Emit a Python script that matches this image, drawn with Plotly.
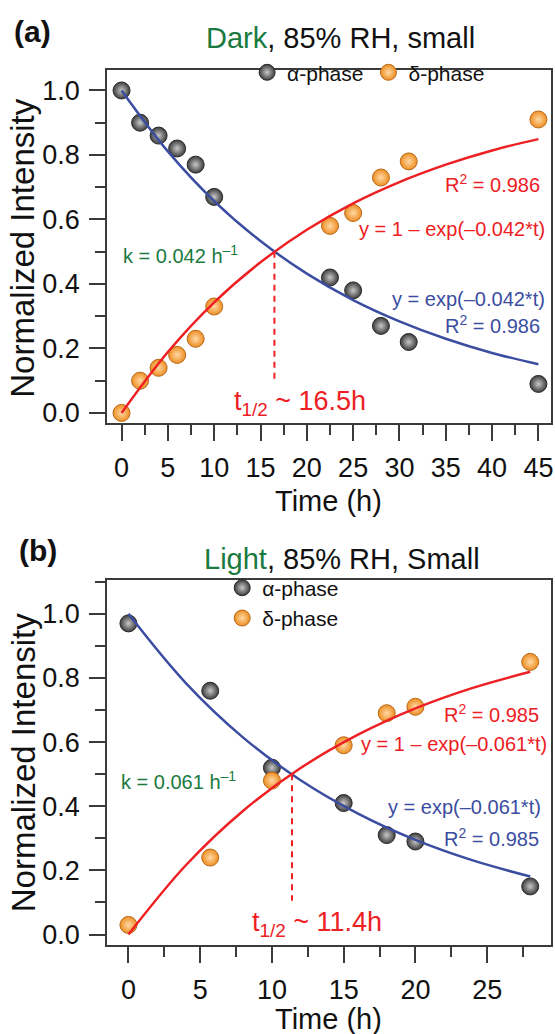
import plotly.graph_objects as go

# ---------------- data: panel (a) Dark, 85% RH, small ----------------
t_a = [0, 2, 4, 6, 8, 10, 22.5, 25, 28, 31, 45]
alpha_a = [1.00, 0.90, 0.86, 0.82, 0.77, 0.67, 0.42, 0.38, 0.27, 0.22, 0.09]
delta_a = [0.00, 0.10, 0.14, 0.18, 0.23, 0.33, 0.58, 0.62, 0.73, 0.78, 0.91]
tfit_a = [0, 5, 10, 15, 20, 25, 30, 35, 40, 45]
alpha_fit_a = [1.000, 0.811, 0.657, 0.533, 0.432, 0.350, 0.284, 0.230, 0.186, 0.151]
delta_fit_a = [0.000, 0.189, 0.343, 0.467, 0.568, 0.650, 0.716, 0.770, 0.814, 0.849]
half_t_a = [16.5, 16.5]
half_y_a = [0.5, 0.095]
xticks_a = [0, 5, 10, 15, 20, 25, 30, 35, 40, 45]

# ---------------- data: panel (b) Light, 85% RH, Small ----------------
t_b = [0, 5.7, 10, 15, 18, 20, 28]
alpha_b = [0.97, 0.76, 0.52, 0.41, 0.31, 0.29, 0.15]
delta_b = [0.03, 0.24, 0.48, 0.59, 0.69, 0.71, 0.85]
tfit_b = [0, 4, 8, 12, 16, 20, 24, 28]
alpha_fit_b = [1.000, 0.784, 0.614, 0.481, 0.377, 0.295, 0.231, 0.181]
delta_fit_b = [0.000, 0.216, 0.386, 0.519, 0.623, 0.705, 0.769, 0.819]
half_t_b = [11.4, 11.4]
half_y_b = [0.5, 0.105]
xticks_b = [0, 5, 10, 15, 20, 25]

yticks = [0.0, 0.2, 0.4, 0.6, 0.8, 1.0]

RED = "#ED2024"
BLUE = "#3B4DA1"
GREEN = "#1A7A40"
AXC = "#3a3a3a"
FONT = "Liberation Sans, Arial, sans-serif"

gray_marker = dict(size=17, color="#3c3c3c",
                   gradient=dict(type="radial", color="#c8c8c8"),
                   line=dict(color="#2a2a2a", width=1))
orange_marker = dict(size=17, color="#EE8E22",
                     gradient=dict(type="radial", color="#FFD9A6"),
                     line=dict(color="#B8691A", width=1))

fig = go.Figure()

# panel (a)
fig.add_trace(go.Scatter(x=t_a, y=alpha_a, mode="markers", marker=gray_marker,
                         name="α-phase", legend="legend", xaxis="x", yaxis="y"))
fig.add_trace(go.Scatter(x=t_a, y=delta_a, mode="markers", marker=orange_marker,
                         name="δ-phase", legend="legend", xaxis="x", yaxis="y"))
fig.add_trace(go.Scatter(x=tfit_a, y=alpha_fit_a, mode="lines", line=dict(color=BLUE, width=2.5, shape="spline"),
                         showlegend=False, xaxis="x", yaxis="y"))
fig.add_trace(go.Scatter(x=tfit_a, y=delta_fit_a, mode="lines", line=dict(color=RED, width=2.5, shape="spline"),
                         showlegend=False, xaxis="x", yaxis="y"))
fig.add_trace(go.Scatter(x=half_t_a, y=half_y_a, mode="lines", line=dict(color=RED, width=2, dash="6px,5px"),
                         showlegend=False, xaxis="x", yaxis="y"))

# panel (b)
fig.add_trace(go.Scatter(x=t_b, y=alpha_b, mode="markers", marker=gray_marker,
                         name="α-phase", legend="legend2", xaxis="x2", yaxis="y2"))
fig.add_trace(go.Scatter(x=t_b, y=delta_b, mode="markers", marker=orange_marker,
                         name="δ-phase", legend="legend2", xaxis="x2", yaxis="y2"))
fig.add_trace(go.Scatter(x=tfit_b, y=alpha_fit_b, mode="lines", line=dict(color=BLUE, width=2.5, shape="spline"),
                         showlegend=False, xaxis="x2", yaxis="y2"))
fig.add_trace(go.Scatter(x=tfit_b, y=delta_fit_b, mode="lines", line=dict(color=RED, width=2.5, shape="spline"),
                         showlegend=False, xaxis="x2", yaxis="y2"))
fig.add_trace(go.Scatter(x=half_t_b, y=half_y_b, mode="lines", line=dict(color=RED, width=2, dash="6px,5px"),
                         showlegend=False, xaxis="x2", yaxis="y2"))

W, H = 555, 1034


def px_x(p):
    return p / W


def px_y(p):
    return 1 - p / H


def xaxis_cfg(rng, anchor, vals):
    return dict(domain=[px_x(107.3), px_x(553)], range=rng, anchor=anchor,
                tickmode="array", tickvals=vals, ticktext=[str(v) for v in vals],
                ticks="outside", ticklen=16, tickwidth=1.5, tickcolor=AXC,
                minor=dict(ticks="outside", tick0=2.5, dtick=5, ticklen=10, tickwidth=1.5, tickcolor=AXC),
                showline=True, linecolor=AXC, linewidth=1.5, mirror=True,
                showgrid=False, zeroline=False, ticklabeloverflow="allow",
                ticklabelstandoff=4,
                tickfont=dict(size=27, color="#111", family=FONT))


def yaxis_cfg(dom, rng, anchor):
    return dict(domain=dom, range=rng, anchor=anchor,
                tickmode="array", tickvals=yticks, ticktext=[f"{v:.1f}" for v in yticks],
                ticks="outside", ticklen=16, tickwidth=1.5, tickcolor=AXC,
                minor=dict(ticks="outside", tick0=0.1, dtick=0.2, ticklen=10, tickwidth=1.5, tickcolor=AXC),
                showline=True, linecolor=AXC, linewidth=1.5, mirror=True,
                showgrid=False, zeroline=False, ticklabeloverflow="allow",
                ticklabelstandoff=4,
                tickfont=dict(size=27, color="#111", family=FONT))


annotations = []


def ann(text, x, y, size, color, xanchor="center", xref="paper", yref="paper", textangle=0):
    annotations.append(dict(text=text, x=x, y=y, xref=xref, yref=yref, showarrow=False,
                            xanchor=xanchor, yanchor="middle", textangle=textangle,
                            font=dict(size=size, color=color, family=FONT)))


# titles and panel labels
ann("<b>(a)</b>", px_x(32.5), px_y(32), 30, "#111")
ann(f"<span style='color:{GREEN}'>Dark</span>, 85% RH, small", px_x(341.5), px_y(38.6), 29, "#111")
ann("<b>(b)</b>", px_x(38), px_y(553), 30, "#111")
ann(f"<span style='color:{GREEN}'>Light</span>, 85% RH, Small", px_x(343), px_y(562), 29, "#111")

# axis titles
ann("Normalized Intensity", px_x(23), px_y(249), 33, "#111", textangle=-90)
ann("Normalized Intensity", px_x(23), px_y(766), 33, "#111", textangle=-90)
ann("Time (h)", px_x(330), px_y(503), 29, "#111")
ann("Time (h)", px_x(330), px_y(1024), 29, "#111")

# panel (a) in-plot text
ann("R<sup>2</sup> = 0.986", 45.4, 0.713, 20, RED, "right", "x", "y")
ann("y = 1 – exp(–0.042*t)", 45.9, 0.569, 20, RED, "right", "x", "y")
ann("k = 0.042 h<sup>–1</sup>", -0.1, 0.492, 20, GREEN, "left", "x", "y")
ann("y = exp(–0.042*t)", 45.9, 0.352, 20, BLUE, "right", "x", "y")
ann("R<sup>2</sup> = 0.986", 45.4, 0.275, 20, BLUE, "right", "x", "y")
ann("t<sub>1/2</sub> ~ 16.5h", 19.3, 0.03, 27, RED, "center", "x", "y")

# panel (b) in-plot text
ann("R<sup>2</sup> = 0.985", 28.77, 0.689, 20, RED, "right", "x2", "y2")
ann("y = 1 – exp(–0.061*t)", 29.3, 0.594, 20, RED, "right", "x2", "y2")
ann("k = 0.061 h<sup>–1</sup>", -0.64, 0.479, 20, GREEN, "left", "x2", "y2")
ann("y = exp(–0.061*t)", 28.9, 0.397, 20, BLUE, "right", "x2", "y2")
ann("R<sup>2</sup> = 0.985", 28.77, 0.303, 20, BLUE, "right", "x2", "y2")
ann("t<sub>1/2</sub> ~ 11.4h", 13.14, 0.033, 27, RED, "center", "x2", "y2")

fig.update_layout(
    width=W, height=H,
    margin=dict(l=0, r=0, t=0, b=0),
    paper_bgcolor="white", plot_bgcolor="white",
    font=dict(family=FONT, color="#111"),
    xaxis=xaxis_cfg([-1.58, 46.36], "y", xticks_a),
    yaxis=yaxis_cfg([px_y(425), px_y(70.8)], [-0.031, 1.062], "x"),
    xaxis2=xaxis_cfg([-1.5, 29.45], "y2", xticks_b),
    yaxis2=yaxis_cfg([px_y(949.7), px_y(582.6)], [-0.033, 1.106], "x2"),
    legend=dict(orientation="h", x=px_x(248), y=px_y(73), xanchor="left", yanchor="middle",
                bgcolor="rgba(0,0,0,0)", font=dict(size=21, color="#111", family=FONT),
                itemsizing="trace"),
    legend2=dict(orientation="v", x=px_x(223), y=px_y(606), xanchor="left", yanchor="middle",
                 bgcolor="rgba(0,0,0,0)", font=dict(size=21, color="#111", family=FONT),
                 itemsizing="trace", tracegroupgap=0),
    annotations=annotations,
    showlegend=True,
)

fig.write_html("out.html")
